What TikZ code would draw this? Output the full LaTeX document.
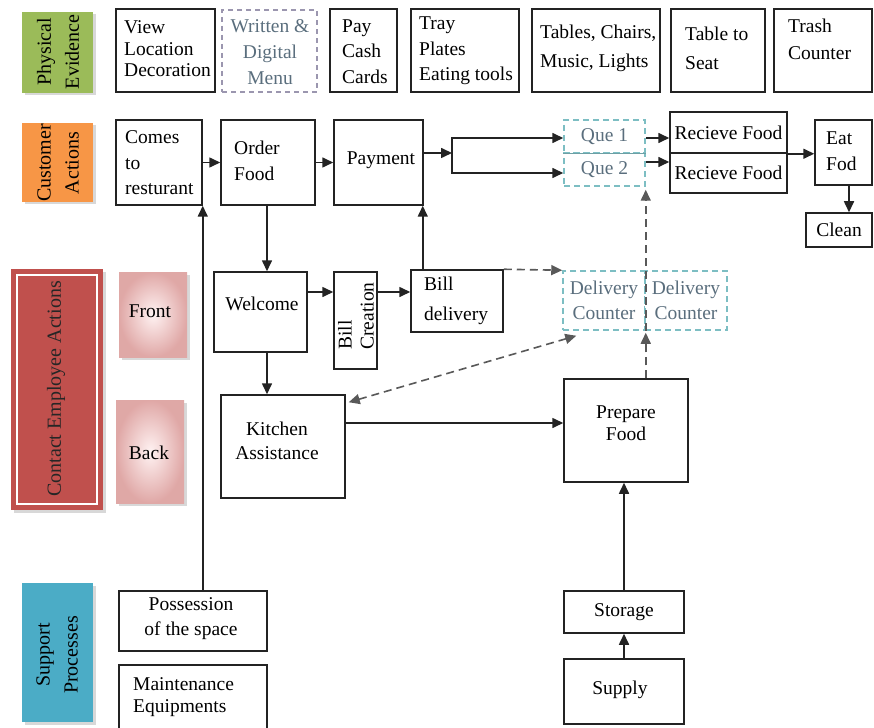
\documentclass[tikz,border=0pt]{standalone}
\usepackage{fontspec}
\setmainfont{Liberation Serif}
\usetikzlibrary{arrows.meta,shadows,calc}
\definecolor{lgreen}{HTML}{9BBB59}
\definecolor{lorange}{HTML}{F79646}
\definecolor{lred}{HTML}{C0504D}
\definecolor{lblue}{HTML}{4BACC6}
\definecolor{teald}{RGB}{125,190,195}
\definecolor{tealdiv}{RGB}{110,160,165}
\definecolor{grayblue}{RGB}{90,110,125}
\definecolor{purpd}{RGB}{155,150,175}
\definecolor{linec}{RGB}{35,35,35}
\newcommand\tfs[1]{\fontsize{19.5}{#1}\selectfont}
\newcommand\mybox[6][]{\node[boxst,minimum width={(#5-#3)*1pt},minimum height={(#6-#4)*1pt},#1] (#2) at ({(#3+#5)/2},{(#4+#6)/2})}
\begin{document}
\begin{tikzpicture}[x=1pt,y=-1pt,
 boxst/.style={draw=linec,line width=1.5pt,fill=white,inner sep=0pt,align=center,font=\tfs{25}},
 txt/.style={inner sep=0pt,align=left,font=\tfs{25}},
 arr/.style={draw=linec,line width=1.6pt,-{Triangle[length=11pt,width=10pt]}},
 darr/.style={draw=black!65,line width=1.6pt,dash pattern=on 8pt off 5pt,-{Triangle[length=11pt,width=10pt]}},
 tealbox/.style={draw=teald,line width=1.5pt,dash pattern=on 6pt off 4pt,fill=white,text=grayblue},
 lane/.style={inner sep=0pt,draw=none,drop shadow={shadow xshift=2.5pt,shadow yshift=-2.5pt,fill=black!30}},
 lanetxt/.style={inner sep=0pt,align=center,rotate=90,font=\fontsize{20}{28}\selectfont},
]
\fill[white] (0,0) rectangle (874,727);
\useasboundingbox (0,0) rectangle (874,727);

% ---------- Physical evidence ----------
\mybox[lane,fill=lgreen]{pe}{22}{12}{93}{93}{};
\node[lanetxt] (pe-t) at (58,52) {Physical\\Evidence};
\mybox{view}{116}{9}{215}{92}{};
\node[txt,anchor=west,font=\tfs{21.5}] (view-t) at (124,49) {View\\Location\\Decoration};
\mybox[draw=purpd,dash pattern=on 5pt off 4pt]{menu}{222}{10}{317}{92}{};
\node[txt,align=center,text=grayblue,font=\tfs{26}] (menu-t) at (270,52) {Written \&\\Digital\\Menu};
\mybox{pay}{330}{9}{397}{92}{};
\node[txt,anchor=west,font=\tfs{25.5}] (pay-t) at (342,51.5) {Pay\\Cash\\Cards};
\mybox{tray}{411}{9}{519}{92}{};
\node[txt,anchor=west,font=\tfs{25.5}] (tray-t) at (419,51) {Tray\\Plates\\Eating tools};
\mybox{tables}{532}{9}{660}{92}{};
\node[txt,anchor=west,font=\tfs{29}] (tables-t) at (540,48) {Tables, Chairs,\\Music, Lights};
\mybox{seat}{671}{9}{765}{92}{};
\node[txt,anchor=west,font=\tfs{29}] (seat-t) at (685,48) {Table to\\Seat};
\mybox{trash}{774}{9}{872}{92}{};
\node[txt,anchor=west,font=\tfs{27}] (trash-t) at (788,39.5) {Trash\\Counter};

% ---------- Customer actions ----------
\mybox[lane,fill=lorange]{ca}{22}{123}{93}{202}{};
\node[lanetxt] (ca-t) at (58,163) {Customer\\Actions};
\mybox{comes}{116}{120}{202}{205}{};
\node[txt,anchor=west,font=\tfs{25.5}] (comes-t) at (125,163) {Comes\\to\\resturant};
\mybox{order}{221}{120}{315}{205}{};
\node[txt,anchor=west,font=\tfs{26}] (order-t) at (234,161) {Order\\Food};
\mybox{payment}{334}{120}{423}{205}{};
\node[txt] (payment-t) at (381,160) {Payment};
\mybox[tealbox]{que1}{564}{120}{645}{153}{Que 1};
\mybox[tealbox]{que2}{564}{153}{645}{186}{Que 2};
\draw[tealdiv,line width=1.5pt] (que1.south west) -- (que1.south east);
\mybox{rf1}{670}{112}{787}{153}{Recieve Food};
\mybox{rf2}{670}{153}{787}{193}{Recieve Food};
\mybox{eat}{815}{120}{872}{185}{};
\node[txt,anchor=west,font=\tfs{26}] (eat-t) at (826,151) {Eat\\Fod};
\mybox{clean}{806}{213}{872}{247}{Clean};

% ---------- Contact employee actions ----------
\mybox[lane,fill=lred]{cea}{11}{269}{103}{510}{};
\node[draw=white,line width=2.2pt,inner sep=0pt,minimum width=80pt,minimum height=229pt] (cea-in) at (cea.center) {};
\node[lanetxt,text=black!85] (cea-t) at (56,389) {Contact Employee Actions};
\mybox[lane,inner color=red!5,outer color=lred!50!white]{front}{119}{272}{187}{357}{};
\node[txt] (front-t) at (150,311) {Front};
\mybox[lane,inner color=red!5,outer color=lred!50!white]{back}{116}{400}{184}{503}{};
\node[txt] (back-t) at (149,453) {Back};
\mybox{welcome}{214}{272}{307}{352}{};
\node[txt] (welcome-t) at (262,304) {Welcome};
\mybox{bc}{334}{272}{377}{369}{};
\node[txt,rotate=90,align=left,font=\tfs{22}] (bc-t) at (356,316) {Bill\\Creation};
\mybox{bd}{411}{270}{503}{332}{};
\node[txt,anchor=west,font=\tfs{30}] (bd-t) at (424,301) {Bill\\delivery};
\mybox[tealbox]{dc1}{563}{271}{645}{330}{Delivery\\Counter};
\mybox[tealbox]{dc2}{645}{271}{727}{330}{Delivery\\Counter};
\mybox{kit}{221}{395}{345}{498}{};
\node[txt,align=center,font=\tfs{24}] (kit-t) at (277,441) {Kitchen\\Assistance};
\mybox{prep}{564}{379}{688}{482}{};
\node[txt,align=center,font=\tfs{22}] (prep-t) at (626,423) {Prepare\\Food};

% ---------- Support processes ----------
\mybox[lane,fill=lblue]{sp}{22}{583}{93}{722}{};
\node[lanetxt] (sp-t) at (57,655) {Support\\Processes};
\mybox{poss}{119}{591}{267}{651}{};
\node[txt,align=center,font=\tfs{25}] (poss-t) at (191,619) {Possession\\of the space};
\mybox{maint}{119}{665}{267}{740}{};
\node[txt,anchor=west,font=\tfs{22}] (maint-t) at (133,697) {Maintenance\\Equipments};
\mybox{stor}{564}{591}{684}{633}{Storage};
\mybox{sup}{564}{659}{684}{724}{};
\node[txt] (sup-t) at (620,690) {Supply};

% ---------- connectors ----------
\draw[arr] (comes.east) -- (order.west);
\draw[arr] (order.east) -- (payment.west);
\coordinate (split) at (452,153);
\draw[arr] (payment.east |- split) -- (split);
\draw[arr] (split) |- ([yshift=-1.5pt]que1.west);
\draw[arr] (split) |- ([yshift=-3.5pt]que2.west);
\draw[arr] ([yshift=-1.5pt]que1.east) -- ([yshift=-1.5pt]que1.east -| rf1.west);
\draw[arr] ([yshift=7.5pt]que2.east) -- ([yshift=7.5pt]que2.east -| rf2.west);
\draw[arr] (rf1.south east) -- (rf1.south east -| eat.west);
\draw[arr] ([xshift=5.5pt]eat.south) -- ([xshift=5.5pt]eat.south |- clean.north);
\draw[arr] (poss.north -| comes.south east) -- (comes.south east);
\draw[arr] ([xshift=-1pt]order.south) -- ([xshift=-1pt]order.south |- welcome.north);
\draw[arr] ([xshift=-1pt]order.south |- welcome.south) -- ([xshift=-1pt]order.south |- kit.north);
\draw[arr] ([yshift=20pt]welcome.east) -- ([yshift=20pt]welcome.east -| bc.west);
\draw[arr] ([yshift=20pt]welcome.east -| bc.east) -- ([yshift=20pt]welcome.east -| bd.west);
\draw[arr] ([xshift=-1pt]payment.south east |- bd.north) -- ([xshift=-1pt]payment.south east);
\draw[darr] (bd.north east) -- (dc1.north west);
\draw[darr,{Triangle[length=11pt,width=10pt]}-{Triangle[length=11pt,width=10pt]}] ([shift={(3,8)}]kit.north east) -- ([shift={(14,5)}]dc1.south west);
\draw[darr] (prep.north -| dc1.south east) -- ([yshift=-2pt]dc1.south east);
\draw[darr] (dc1.south east) -- ([yshift=-3pt]que2.south east);
\draw[arr] ([yshift=23.5pt]kit.east) -- ([yshift=23.5pt]kit.east -| prep.west);
\draw[arr] (stor.north) -- (stor.north |- prep.south);
\draw[arr] (sup.north) -- (stor.south);
\end{tikzpicture}
\end{document}
